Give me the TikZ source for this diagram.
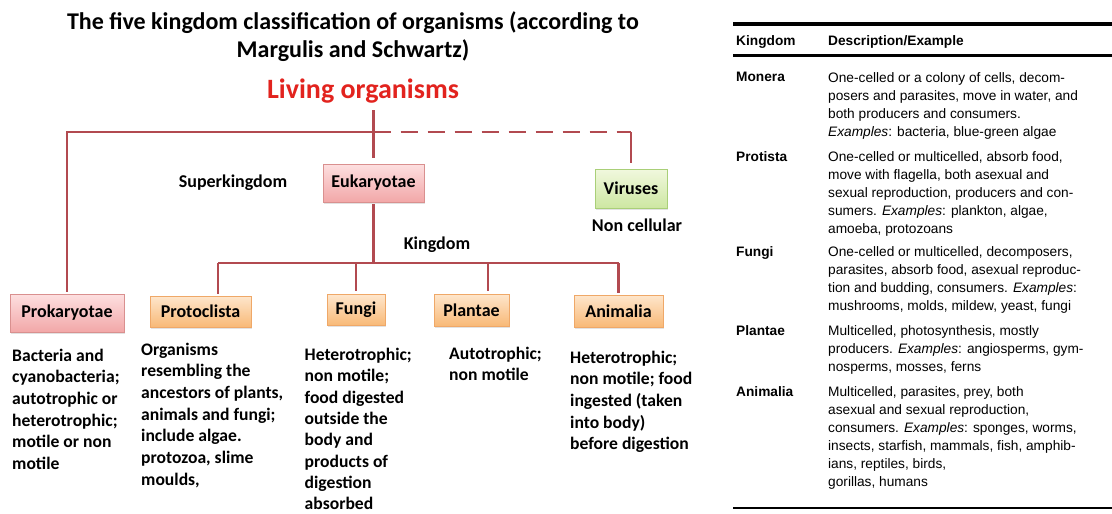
\documentclass[tikz,border=0pt]{standalone}
\usepackage{fontspec}
\setmainfont{Carlito}
\newfontfamily\tabfont{Liberation Sans}
\usetikzlibrary{shadows,calc}
\definecolor{lnred}{HTML}{B24A50}
\definecolor{livred}{HTML}{E2231E}
\definecolor{pinkT}{HTML}{FDE0E0}
\definecolor{pinkB}{HTML}{F2A7A8}
\definecolor{pinkD}{HTML}{D9908F}
\definecolor{orT}{HTML}{FEE6CC}
\definecolor{orB}{HTML}{F8B977}
\definecolor{orD}{HTML}{EFA868}
\definecolor{grT}{HTML}{F1F8DE}
\definecolor{grB}{HTML}{CDE7A2}
\definecolor{grD}{HTML}{A9CF78}
\tikzset{
  boxbase/.style={draw, line width=0.8pt, inner sep=0pt, font=\fontsize{18}{20}\selectfont\bfseries,
    drop shadow={shadow xshift=1.2pt, shadow yshift=-1.5pt, fill=black!22}},
  pinkbox/.style={boxbase, draw=pinkD, top color=pinkT, bottom color=pinkB},
  orbox/.style={boxbase, draw=orD, top color=orT, bottom color=orB},
  grbox/.style={boxbase, draw=grD, top color=grT, bottom color=grB},
  conn/.style={draw=lnred, line width=2.3pt},
  desc/.style={anchor=north west, inner sep=0pt, align=left, font=\fontsize{17.6}{21.7}\selectfont\bfseries},
  lbl/.style={inner sep=0pt, font=\fontsize{18}{20}\selectfont\bfseries},
  tabtxt/.style={anchor=north west, inner sep=0pt, align=left, font=\tabfont\fontsize{13.7}{18.1}\selectfont},
  tabhead/.style={anchor=north west, inner sep=0pt, align=left, font=\tabfont\fontsize{13.7}{18.1}\selectfont\bfseries},
  rule/.style={draw=black}
}
\begin{document}
\begin{tikzpicture}[x=1pt,y=-1pt]
\useasboundingbox[fill=white] (0,0) rectangle (1112,514);

% title
\node[align=center, inner sep=0pt, font=\fontsize{24}{28}\selectfont\bfseries] (title) at (353,37)
  {The five kingdom classification of organisms (according to\\Margulis and Schwartz)};
\node[inner sep=0pt, text=livred, font=\fontsize{28}{30}\selectfont\bfseries] (living) at (363,91) {Living organisms};

% boxes
\node[pinkbox, minimum width=101pt, minimum height=38pt] (euk) at (373.5,183) {Eukaryotae};
\node[grbox, minimum width=72pt, minimum height=39pt] (vir) at (631,188.5) {Viruses};
\node[pinkbox, minimum width=114pt, minimum height=38pt] (prok) at (67,313) {Prokaryotae};
\node[orbox, minimum width=101pt, minimum height=31pt] (proto) at (200.5,311.5) {Protoclista};
\node[orbox, minimum width=58pt, minimum height=31pt] (fungi) at (356,310) {Fungi};
\node[orbox, minimum width=75pt, minimum height=32pt] (plantae) at (471.5,310) {Plantae};
\node[orbox, minimum width=89pt, minimum height=32pt] (anim) at (618.5,311) {Animalia};

% labels
\node[lbl] (superk) at (233,183) {Superkingdom};
\node[lbl] (noncell) at (637,225) {Non cellular};
\node[lbl] (kingdom) at (437,245) {Kingdom};

% connectors
\coordinate (ltop) at (373.5,110);
\coordinate (jc) at (373.5,132);
\coordinate (kj) at (373.5,263);
\coordinate (kl) at (218,263);
\coordinate (kr) at (618.5,263);
\coordinate (pdrop) at ([xshift=16.5pt]plantae.north);
\draw[conn, shorten >=6pt] (ltop) -- (euk.north);
\draw[conn] (jc) -| ([yshift=2pt]prok.north);
\draw[conn, dashed, dash pattern=on 17pt off 10pt] (jc) -- (jc -| vir.north);
\draw[conn, shorten >=6pt] (jc -| vir.north) -- (vir.north);
\draw[conn, shorten <=2pt] (euk.south) -- (kj);
\draw[conn] (kl) -- (kr);
\draw[conn, shorten >=2pt] (kl) -- (kl |- proto.north);
\draw[conn, shorten >=3pt] (kl -| fungi.north) -- (fungi.north);
\draw[conn, shorten >=3pt] (kl -| pdrop) -- (pdrop);
\draw[conn, shorten >=2pt] (kr) -- (anim.north);

% descriptions
\node[desc] (dprok) at (12,348.5) {Bacteria and\\cyanobacteria;\\autotrophic or\\heterotrophic;\\motile or non\\motile};
\node[desc] (dproto) at (141,342.5) {Organisms\\resembling the\\ancestors of plants,\\animals and fungi;\\include algae.\\protozoa, slime\\moulds,};
\node[desc, font=\fontsize{17.6}{21.3}\selectfont\bfseries] (dfungi) at (304.5,348) {Heterotrophic;\\non motile;\\food digested\\outside the\\body and\\products of\\digestion\\absorbed};
\node[desc] (dplant) at (449,346.5) {Autotrophic;\\non motile};
\node[desc] (danim) at (570,350.5) {Heterotrophic;\\non motile; food\\ingested (taken\\into body)\\before digestion};

% table
\coordinate (tl) at (733,24);
\coordinate (tr) at (1112,24);
\draw[rule, line width=3.6pt] (tl) -- (tr);
\draw[rule, line width=3pt] (733,55) -- (1112,55);
\draw[rule, line width=1.6pt] (733,508) -- (1112,508);
\node[tabhead] (hk) at (736,35) {Kingdom};
\node[tabhead] (hd) at (828,35) {Description/Example};

\node[tabhead] (k1) at (736,72) {Monera};
\node[tabtxt] (d1) at (828,72) {One-celled or a colony of cells, decom-\\posers and parasites, move in water, and\\both producers and consumers.\\\textit{Examples}: bacteria, blue-green algae};
\node[tabhead] (k2) at (736,151) {Protista};
\node[tabtxt] (d2) at (828,151) {One-celled or multicelled, absorb food,\\move with flagella, both asexual and\\sexual reproduction, producers and con-\\sumers. \textit{Examples}: plankton, algae,\\amoeba, protozoans};
\node[tabhead] (k3) at (736,246) {Fungi};
\node[tabtxt] (d3) at (828,246) {One-celled or multicelled, decomposers,\\parasites, absorb food, asexual reproduc-\\tion and budding, consumers. \textit{Examples}:\\mushrooms, molds, mildew, yeast, fungi};
\node[tabhead] (k4) at (736,325) {Plantae};
\node[tabtxt] (d4) at (828,325) {Multicelled, photosynthesis, mostly\\producers. \textit{Examples}: angiosperms, gym-\\nosperms, mosses, ferns};
\node[tabhead] (k5) at (736,386) {Animalia};
\node[tabtxt] (d5) at (828,386) {Multicelled, parasites, prey, both\\asexual and sexual reproduction,\\consumers. \textit{Examples}: sponges, worms,\\insects, starfish, mammals, fish, amphib-\\ians, reptiles, birds,\\gorillas, humans};
\end{tikzpicture}
\end{document}
